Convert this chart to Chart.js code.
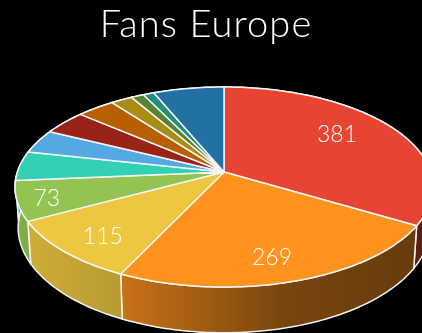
<!DOCTYPE html>
<html>
<head>
<meta charset="utf-8">
<title>Fans Europe</title>
<script src="https://cdn.jsdelivr.net/npm/chart.js@4/dist/chart.umd.min.js"></script>
<style>
  html, body { margin: 0; padding: 0; background: #000; overflow: hidden; }
  canvas { display: block; }
</style>
</head>
<body>
<canvas id="fansChart" width="422" height="333"></canvas>
<script>
const categories = ['A', 'B', 'C', 'D', 'E', 'F', 'G', 'H', 'I', 'J', 'K', 'L'];
const fans = [381, 269, 115, 73, 54, 44, 45, 39, 22, 13, 11, 72];
const sliceColors = [
  '#E74533', '#FF931E', '#ECC73F', '#93C452', '#33D0B5', '#55A9E2',
  '#9A2317', '#B85F00', '#A98C13', '#5A8234', '#1F8F7C', '#2271A5',
];
// only the big slices carry a value: distance from the hub as a fraction of
// the radius, and position across the slice
const labelRadius = [0.705, 0.804, 0.806, 0.865];
const labelAcross = [0.459, 0.525, 0.434, 0.44];

const FONT = 'Lato, "Open Sans", sans-serif';

// Tilted pie: the hub sits above the middle of the ellipse because of perspective
const pie3d = {
  cx: 224,
  cy: 172,
  rx: 206.6,
  ry: 97.75,
  k: 0.15,
  baseX: 0.985,
  baseY: 1.05,
  drop: 40,
};

// Wall brightness from left to right
const wallLight = [
  [0, 0.9],
  [122 / 422, 0.78],
  [285 / 422, 0.47],
  [1, 0.4],
];

function project(angle, r) {
  const u = Math.cos(angle) * r;
  const v = Math.sin(angle) * r;
  const w = 1 - pie3d.k * v;
  return { x: (pie3d.rx * u) / w, y: (pie3d.ry * v) / w };
}

function topPoint(angle, r = 1) {
  const p = project(angle, r);
  return { x: pie3d.cx + p.x, y: pie3d.cy + p.y };
}

function basePoint(angle) {
  const p = project(angle, 1);
  return {
    x: pie3d.cx + p.x * pie3d.baseX,
    y: pie3d.cy + p.y * pie3d.baseY + pie3d.drop,
  };
}

function shade(hex, f) {
  const n = parseInt(hex.slice(1), 16);
  const r = Math.round(((n >> 16) & 255) * f);
  const g = Math.round(((n >> 8) & 255) * f);
  const b = Math.round((n & 255) * f);
  return `rgb(${r},${g},${b})`;
}

function sweep(arc, fn) {
  const steps = Math.max(2, Math.ceil((arc.endAngle - arc.startAngle) / 0.02));
  const pts = [];
  for (let i = 0; i <= steps; i++) {
    pts.push(fn(arc.startAngle + ((arc.endAngle - arc.startAngle) * i) / steps));
  }
  return pts;
}

function tracePoints(ctx, pts) {
  pts.forEach((p) => ctx.lineTo(p.x, p.y));
}

// Replaces the flat arcs with the extruded pie, using the angles Chart.js worked out
const tiltedPie = {
  id: 'tiltedPie',
  beforeDraw(chart) {
    chart.ctx.letterSpacing = '1.1px';
  },
  beforeDatasetsDraw(chart) {
    const ctx = chart.ctx;
    const arcs = chart.getDatasetMeta(0).data;

    ctx.save();
    ctx.lineJoin = 'round';
    ctx.letterSpacing = '0px';

    // walls first, the top faces cover the back part of them
    arcs.forEach((arc) => {
      const opts = arc.options;
      const grad = ctx.createLinearGradient(0, 0, chart.width, 0);
      wallLight.forEach(([stop, f]) => {
        grad.addColorStop(stop, shade(opts.backgroundColor, f));
      });
      ctx.beginPath();
      tracePoints(ctx, sweep(arc, (a) => topPoint(a)));
      tracePoints(ctx, sweep(arc, basePoint).reverse());
      ctx.closePath();
      ctx.fillStyle = grad;
      ctx.fill();
      ctx.strokeStyle = opts.borderColor;
      ctx.lineWidth = opts.borderWidth;
      ctx.stroke();
    });

    arcs.forEach((arc) => {
      const opts = arc.options;
      ctx.beginPath();
      ctx.moveTo(pie3d.cx, pie3d.cy);
      tracePoints(ctx, sweep(arc, (a) => topPoint(a)));
      ctx.closePath();
      ctx.fillStyle = opts.backgroundColor;
      ctx.fill();
      ctx.strokeStyle = opts.borderColor;
      ctx.lineWidth = opts.borderWidth;
      ctx.stroke();
    });

    // value labels
    ctx.fillStyle = '#fff';
    ctx.font = `300 23px ${FONT}`;
    ctx.textAlign = 'center';
    ctx.textBaseline = 'middle';
    labelRadius.forEach((r, i) => {
      const arc = arcs[i];
      const angle = arc.startAngle + (arc.endAngle - arc.startAngle) * labelAcross[i];
      const p = topPoint(angle, r);
      ctx.fillText(String(fans[i]), p.x, p.y);
    });

    ctx.restore();
    return false;
  },
};

new Chart(document.getElementById('fansChart'), {
  type: 'pie',
  data: {
    labels: categories,
    datasets: [
      {
        data: fans,
        backgroundColor: sliceColors,
        borderColor: '#f4f4f4',
        borderWidth: 1.5,
      },
    ],
  },
  options: {
    responsive: false,
    animation: false,
    layout: { padding: { right: 10 } },
    plugins: {
      legend: { display: false },
      tooltip: { enabled: false },
      title: {
        display: true,
        text: 'Fans Europe',
        color: '#fff',
        font: { size: 38, family: FONT, weight: '300' },
        padding: { top: 2, bottom: 10 },
      },
    },
  },
  plugins: [tiltedPie],
});
</script>
</body>
</html>
